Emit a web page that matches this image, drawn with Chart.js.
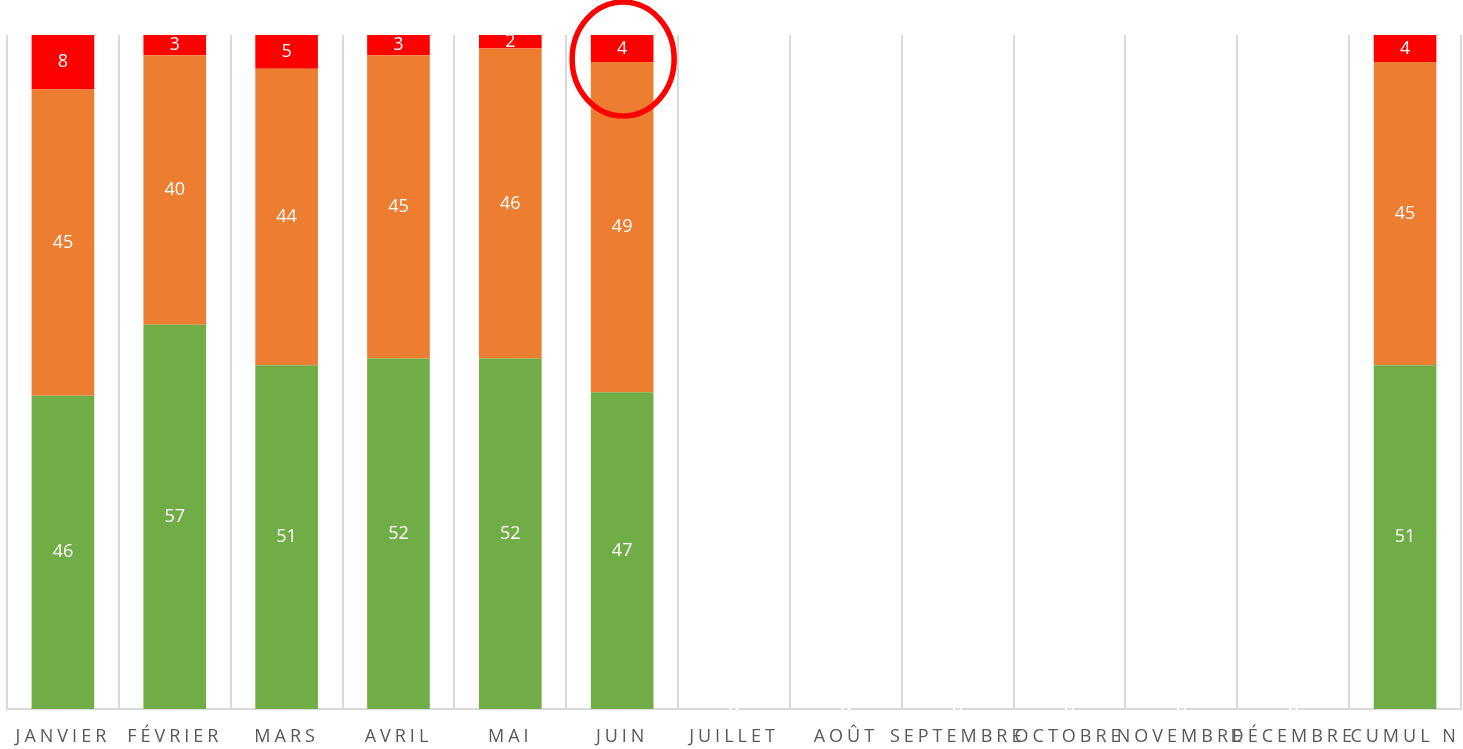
<!DOCTYPE html>
<html lang="fr">
<head>
<meta charset="utf-8">
<title>Répartition mensuelle</title>
<script src="https://cdn.jsdelivr.net/npm/chart.js@4/dist/chart.umd.min.js"></script>
<style>
  html, body { margin: 0; padding: 0; background: #fff; }
  #wrap { width: 1463px; height: 749px; position: relative; }
</style>
</head>
<body>
<div id="wrap"><canvas id="chart"></canvas></div>
<script>
// Data
const categories = ['JANVIER', 'FÉVRIER', 'MARS', 'AVRIL', 'MAI', 'JUIN', 'JUILLET', 'AOÛT',
                    'SEPTEMBRE', 'OCTOBRE', 'NOVEMBRE', 'DÉCEMBRE', 'CUMUL N'];
const greenValues  = [46, 57, 51, 52, 52, 47, 0, 0, 0, 0, 0, 0, 51];
const orangeValues = [45, 40, 44, 45, 46, 49, 0, 0, 0, 0, 0, 0, 45];
const redValues    = [8, 3, 5, 3, 2, 4, 0, 0, 0, 0, 0, 0, 4];
const highlighted = 'JUIN';

// 100% stacked: each column is scaled to its own total
const totals = categories.map((c, i) => greenValues[i] + orangeValues[i] + redValues[i]);
const share = arr => arr.map((v, i) => totals[i] ? v / totals[i] * 100 : 0);

const GREEN = '#70AD47';
const ORANGE = '#ED7D31';
const RED = '#FF0000';

// Labels in white, centred in each segment
const segmentLabels = {
    id: 'segmentLabels',
    beforeDraw(chart) {
        // spaced-out category labels
        chart.ctx.letterSpacing = '4px';
    },
    beforeDatasetsDraw(chart) {
        chart.ctx.letterSpacing = '0px';
    },
    afterDatasetsDraw(chart) {
        const ctx = chart.ctx;
        ctx.save();
        ctx.letterSpacing = '0px';
        ctx.fillStyle = '#ffffff';
        ctx.font = '18px "Open Sans", sans-serif';
        ctx.textAlign = 'center';
        ctx.textBaseline = 'middle';
        chart.data.datasets.forEach((ds, di) => {
            const meta = chart.getDatasetMeta(di);
            meta.data.forEach((bar, i) => {
                const raw = ds.rawValues[i];
                const y = (bar.y + bar.base) / 2;
                ctx.fillText(String(raw), bar.x, y);
            });
        });
        ctx.restore();
    }
};

// Red ring around the highlighted column top
const highlightRing = {
    id: 'highlightRing',
    afterDraw(chart) {
        const idx = categories.indexOf(highlighted);
        if (idx < 0) return;
        const x = chart.scales.x.getPixelForValue(idx);
        const top = chart.chartArea.top;
        const ctx = chart.ctx;
        ctx.save();
        ctx.strokeStyle = RED;
        ctx.lineWidth = 5.5;
        ctx.beginPath();
        ctx.ellipse(x + 1, top + 24, 51, 57, 0, 0, Math.PI * 2);
        ctx.stroke();
        ctx.restore();
    }
};

const ctx = document.getElementById('chart').getContext('2d');
new Chart(ctx, {
    type: 'bar',
    data: {
        labels: categories,
        datasets: [
            { label: 'Vert', data: share(greenValues), rawValues: greenValues, backgroundColor: GREEN },
            { label: 'Orange', data: share(orangeValues), rawValues: orangeValues, backgroundColor: ORANGE },
            { label: 'Rouge', data: share(redValues), rawValues: redValues, backgroundColor: RED }
        ]
    },
    options: {
        responsive: true,
        maintainAspectRatio: false,
        animation: false,
        barPercentage: 0.56,
        categoryPercentage: 1,
        layout: { padding: { left: 7, right: 2, top: 35, bottom: -16 } },
        plugins: {
            legend: { display: false },
            title: { display: false },
            tooltip: { enabled: false }
        },
        scales: {
            x: {
                stacked: true,
                grid: {
                    display: true,
                    offset: true,
                    color: '#d9d9d9',
                    lineWidth: 2,
                    drawTicks: false
                },
                border: { display: true, color: '#d9d9d9', width: 2 },
                ticks: {
                    autoSkip: false,
                    maxRotation: 0,
                    minRotation: 0,
                    padding: 15,
                    color: '#595959',
                    font: { family: '"Open Sans", sans-serif', size: 18, lineHeight: 1.45 }
                }
            },
            y: {
                stacked: true,
                display: false,
                min: 0,
                max: 100
            }
        }
    },
    plugins: [segmentLabels, highlightRing]
});
</script>
</body>
</html>
